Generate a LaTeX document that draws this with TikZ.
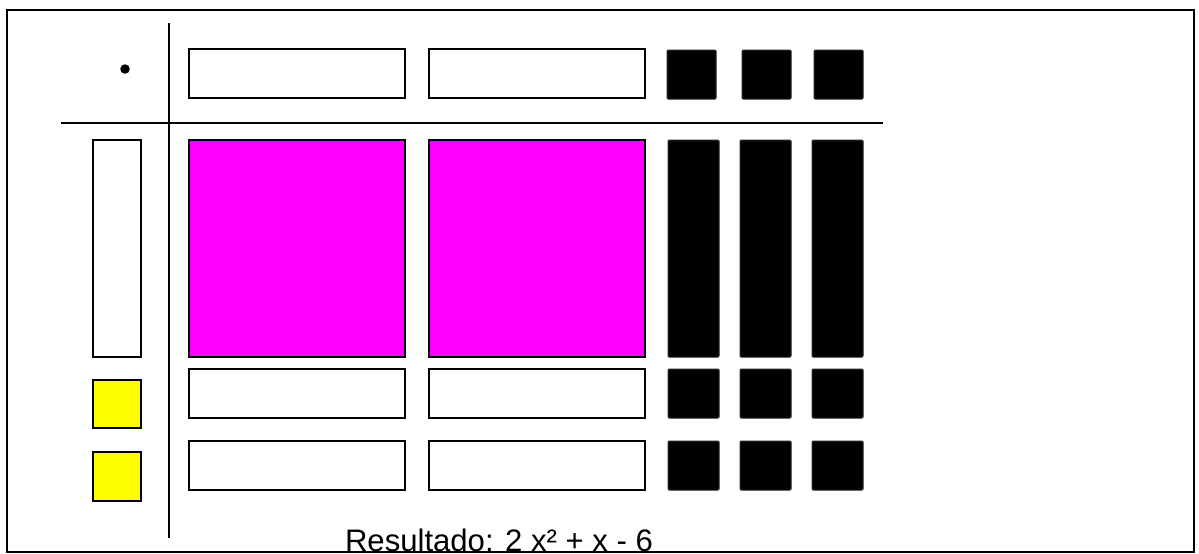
\documentclass[tikz,border=0pt]{standalone}
\usepackage{fontspec}
\setmainfont{Liberation Sans}
\definecolor{pmag}{RGB}{255,0,255}
\definecolor{pyel}{RGB}{255,255,0}
\begin{document}
\begin{tikzpicture}[x=1pt,y=-1pt,
  tile/.style={draw=black,line width=1.5pt,inner sep=0pt,outer sep=0pt,anchor=center},
  wbox/.style={tile,fill=white},
  mbox/.style={tile,fill=pmag},
  ybox/.style={tile,fill=pyel},
  kbox/.style={tile,fill=black,draw=black!85,line width=1pt,rounded corners=1pt},
  axis/.style={line width=1.8pt},
  frame/.style={line width=2pt}]
\useasboundingbox (0,0) rectangle (1199,554);
\fill[white] (0,0) rectangle (1199,554);
\draw[frame] (7,10) rectangle (1194,552);
% axes
\coordinate (vt) at (169,23);
\coordinate (vb) at (169,538);
\coordinate (hl) at (61,123);
\coordinate (hr) at (883,123);
\draw[axis] (vt) -- (vb);
\draw[axis] (hl) -- (hr);
\node[circle,fill=black,inner sep=0pt,minimum size=9.5pt] (dot) at (125,69) {};
% top row
\node[wbox,minimum width=216pt,minimum height=49pt] (t1) at (297,73.5) {};
\node[wbox,minimum width=216pt,minimum height=49pt] (t2) at (537,73.5) {};
\node[kbox,minimum width=49pt,minimum height=49pt] (t3) at (691.5,74.5) {};
\node[kbox,minimum width=49pt,minimum height=49pt] (t4) at (766.5,74.5) {};
\node[kbox,minimum width=49pt,minimum height=49pt] (t5) at (838.5,74.5) {};
% left column
\node[wbox,minimum width=48pt,minimum height=217pt] (l1) at (117,248.5) {};
\node[ybox,minimum width=48pt,minimum height=48pt] (l2) at (117,404) {};
\node[ybox,minimum width=48pt,minimum height=49pt] (l3) at (117,476.5) {};
% main row
\node[mbox,minimum width=216pt,minimum height=217pt] (m1) at (297,248.5) {};
\node[mbox,minimum width=216pt,minimum height=217pt] (m2) at (537,248.5) {};
\node[kbox,minimum width=51pt,minimum height=217pt] (m3) at (693.5,248.5) {};
\node[kbox,minimum width=51pt,minimum height=217pt] (m4) at (765.5,248.5) {};
\node[kbox,minimum width=51pt,minimum height=217pt] (m5) at (837.5,248.5) {};
% second row
\node[wbox,minimum width=216pt,minimum height=49pt] (a1) at (297,393.5) {};
\node[wbox,minimum width=216pt,minimum height=49pt] (a2) at (537,393.5) {};
\node[kbox,minimum width=51pt,minimum height=49pt] (a3) at (693.5,393.5) {};
\node[kbox,minimum width=51pt,minimum height=49pt] (a4) at (765.5,393.5) {};
\node[kbox,minimum width=51pt,minimum height=49pt] (a5) at (837.5,393.5) {};
% third row
\node[wbox,minimum width=216pt,minimum height=49pt] (b1) at (297,465.5) {};
\node[wbox,minimum width=216pt,minimum height=49pt] (b2) at (537,465.5) {};
\node[kbox,minimum width=51pt,minimum height=49pt] (b3) at (693.5,465.5) {};
\node[kbox,minimum width=51pt,minimum height=49pt] (b4) at (765.5,465.5) {};
\node[kbox,minimum width=51pt,minimum height=49pt] (b5) at (837.5,465.5) {};
% result
\node[anchor=base,inner sep=0pt,font=\fontsize{31.1pt}{34pt}\selectfont] (res) at (499,551) {Resultado: 2 x² + x - 6};
\end{tikzpicture}
\end{document}
